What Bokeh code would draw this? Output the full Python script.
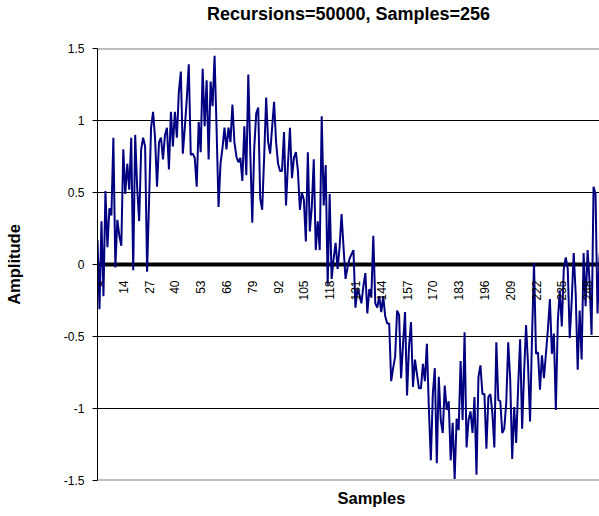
import math
from bokeh.plotting import figure
from bokeh.models import ColumnDataSource, Span, FixedTicker, Range1d, Title, LinearAxis
from bokeh.core.properties import value
from bokeh.embed import file_html
from bokeh.resources import INLINE

samples = list(range(1, 257))
amplitude = [
    0.17, -0.31, 0.30, -0.22, 0.51, 0.12, 0.39, 0.34, 0.88, -0.02,
    0.31, 0.20, 0.13, 0.80, 0.49, 0.70, 0.52, 0.88, -0.04, 0.90,
    0.53, 0.30, 0.80, 0.88, 0.82, -0.05, 0.45, 0.95, 1.06, 0.88,
    0.54, 0.85, 0.88, 0.73, 0.90, 0.95, 0.66, 1.06, 0.82, 1.06,
    0.88, 1.20, 1.34, 0.77, 0.95, 1.15, 1.39, 0.76, 0.77, 0.74,
    0.54, 0.99, 0.78, 1.36, 0.96, 1.28, 0.73, 1.27, 1.10, 1.45,
    0.95, 0.40, 0.70, 0.81, 0.95, 0.80, 0.95, 0.85, 1.11, 0.85,
    0.75, 0.71, 0.74, 0.58, 0.96, 0.62, 1.32, 0.78, 0.29, 0.81,
    1.05, 1.09, 0.46, 0.38, 0.75, 1.16, 0.85, 0.77, 0.95, 1.13,
    0.85, 0.70, 0.65, 0.65, 0.92, 0.41, 0.70, 0.95, 0.60, 0.74,
    0.78, 0.65, 0.38, 0.50, 0.45, 0.16, 0.78, 0.23, 0.40, 0.73,
    0.10, 0.30, 0.10, 1.03, 0.41, 0.69, -0.14, 0.49, -0.10, 0.04,
    0.15, -0.03, 0.12, 0.35, 0.12, -0.10, -0.02, 0.04, 0.07, 0.10,
    -0.30, -0.17, -0.21, -0.27, -0.15, -0.06, -0.34, -0.17, -0.23, 0.20,
    -0.27, -0.30, -0.22, -0.33, -0.22, -0.36, -0.41, -0.41, -0.81, -0.72,
    -0.64, -0.32, -0.35, -0.79, -0.55, -0.33, -0.91, -0.57, -0.40, -0.85,
    -0.66, -0.76, -0.86, -0.86, -0.69, -0.81, -0.55, -1.00, -1.36, -0.90,
    -0.72, -1.38, -0.78, -1.08, -1.17, -0.84, -1.01, -0.95, -1.36, -1.10,
    -1.49, -1.07, -1.15, -0.67, -1.08, -0.47, -1.27, -1.08, -1.02, -1.17,
    -0.92, -1.46, -0.78, -0.70, -0.90, -0.90, -1.28, -0.92, -0.90, -1.03,
    -1.27, -0.54, -0.94, -0.95, -1.17, -1.14, -0.96, -0.54, -0.80, -1.35,
    -0.99, -1.24, -0.85, -0.52, -1.14, -0.75, -0.42, -0.70, -1.09, -0.50,
    0.01, -0.62, -0.61, -0.87, -0.63, -0.79, -0.62, -0.45, -0.24, -0.62,
    -0.48, -1.01, -0.39, -0.18, -0.43, -0.03, 0.05, -0.03, -0.51, -0.25,
    0.08, -0.20, -0.73, -0.32, -0.66, 0.08, -0.29, 0.10, -0.12, -0.49,
    0.54, 0.49, -0.34, 0.05, 0.20, -0.10,
]
x_tick_values = [1, 14, 27, 40, 53, 66, 79, 92, 105, 118, 131, 144, 157, 170,
                 183, 196, 209, 222, 235, 248]
x_tick_labels = ["1", "14", "27", "40", "53", "66", "79", "92", "105", "118",
                 "131", "144", "157", "170", "183", "196", "209", "222", "235", "248"]
y_tick_values = [-1.5, -1.0, -0.5, 0.0, 0.5, 1.0, 1.5]
y_tick_labels = ["-1.5", "-1", "-0.5", "0", "0.5", "1", "1.5"]
y_grid_values = [-1.0, -0.5, 0.5, 1.0]
chart_title = "Recursions=50000, Samples=256"

FONT = "Liberation Sans"

p = figure(width=599, height=516, title=None,
           x_range=Range1d(1, 254), y_range=Range1d(-1.5, 1.5),
           x_axis_location=None,
           output_backend="svg", toolbar_location=None,
           min_border_left=97, min_border_right=0,
           min_border_top=48, min_border_bottom=36)

p.outline_line_color = None
p.background_fill_color = "white"

# chart title: label of a tick-less axis above the plot area
top_axis = LinearAxis(ticker=FixedTicker(ticks=[]), axis_line_color=None,
                      major_tick_line_color=None, minor_tick_line_color=None,
                      major_tick_out=0, major_tick_in=0, minor_tick_out=0, minor_tick_in=0,
                      major_label_standoff=0, major_label_text_font_size="0px",
                      axis_label=chart_title, axis_label_standoff=25,
                      axis_label_text_font=FONT, axis_label_text_font_style="bold",
                      axis_label_text_font_size="18px", axis_label_text_color="black")
p.add_layout(top_axis, "above")

# y axis
yax = p.yaxis[0]
yax.ticker = FixedTicker(ticks=y_tick_values)
yax.major_label_overrides = dict(zip(y_tick_values, y_tick_labels))
yax.major_tick_out = 5
yax.major_tick_in = 0
yax.minor_tick_out = 0
yax.minor_tick_in = 0
yax.axis_line_color = "black"
yax.major_tick_line_color = "black"
yax.major_label_text_font = FONT
yax.major_label_text_font_size = "12px"
yax.major_label_text_color = "black"
yax.major_label_standoff = 8
yax.axis_label = "Amplitude"
yax.axis_label_text_font = FONT
yax.axis_label_text_font_style = "bold"
yax.axis_label_text_font_size = "16.5px"
yax.axis_label_text_color = "black"
yax.axis_label_standoff = 38

# x axis title (below the plot area)
p.add_layout(Title(text="Samples", align="left", offset=240, vertical_align="top",
                   standoff=16, text_font=FONT, text_font_style="bold",
                   text_font_size="16.5px", text_color="black"), "below")

# grid
p.xgrid.visible = False
p.ygrid.ticker = FixedTicker(ticks=y_grid_values)
p.ygrid.grid_line_color = "black"
p.ygrid.grid_line_width = 1
p.ygrid.grid_line_alpha = 1.0

# plot area border (top and bottom)
for loc in (y_tick_values[0], y_tick_values[-1]):
    p.add_layout(Span(location=loc, dimension="width", line_color="#808080",
                      line_width=2, level="underlay"))

# thick zero axis
p.add_layout(Span(location=0, dimension="width", line_color="black",
                  line_width=4, level="underlay"))

src = ColumnDataSource(dict(sample=samples, amplitude=amplitude))
p.line(x="sample", y="amplitude", source=src, line_color="#000080", line_width=2)

# category labels along the zero axis
lab = ColumnDataSource(dict(x=x_tick_values, y=[0.0] * len(x_tick_values), t=x_tick_labels))
p.text(x="x", y="y", text="t", source=lab, angle=math.pi / 2,
       text_align="right", text_baseline="middle", y_offset=16,
       text_font=value(FONT), text_font_size="12px", text_color="black")

open("out.html", "w").write(file_html(p, INLINE))
